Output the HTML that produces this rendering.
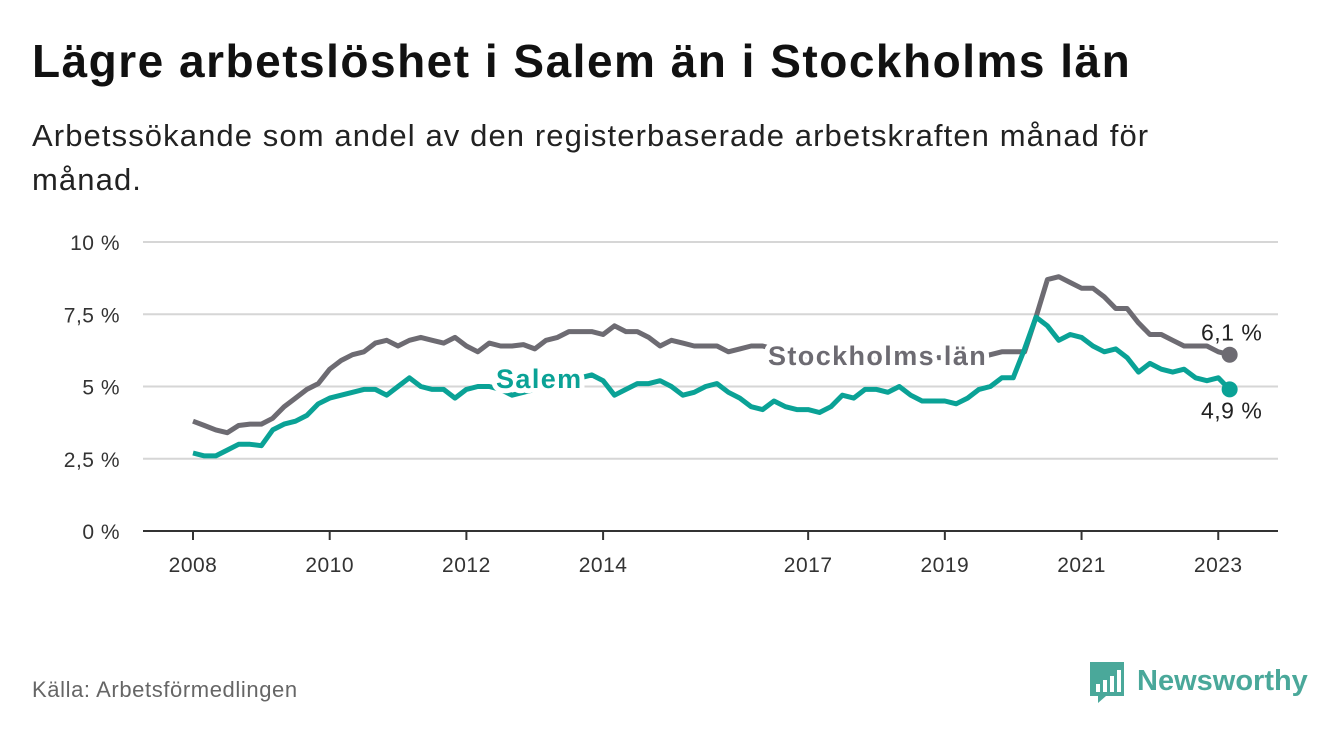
<!DOCTYPE html>
<html><head><meta charset="utf-8"><style>
body{margin:0;background:#fff;font-family:"Liberation Sans","DejaVu Sans",sans-serif;}
#wrap{position:relative;width:1340px;height:734px;overflow:hidden;}
h1{position:absolute;left:32px;top:34px;margin:0;font-size:46px;letter-spacing:1.5px;font-weight:bold;color:#111;white-space:nowrap;}
.sub{position:absolute;left:32px;top:114px;width:1260px;font-size:31px;letter-spacing:1.1px;line-height:44px;color:#222;white-space:nowrap;}
.src{position:absolute;left:32px;top:677px;font-size:22px;letter-spacing:0.6px;color:#666;}
svg{position:absolute;left:0;top:0;}
</style></head><body>
<div id="wrap">
<h1>Lägre arbetslöshet i Salem än i Stockholms län</h1>
<div class="sub">Arbetssökande som andel av den registerbaserade arbetskraften månad för<br>månad.</div>
<div class="src">Källa: Arbetsförmedlingen</div>
<svg id="chart" width="1340" height="734"></svg>
</div>
<script>
const yTicks=[0,2.5,5,7.5,10];
const yTickLabels=["0 %","2,5 %","5 %","7,5 %","10 %"];
const xTicks=[2008,2010,2012,2014,2017,2019,2021,2023];
const startYear=2008;
const stockholm=[3.8,3.65,3.5,3.4,3.65,3.7, 3.7,3.9,4.3,4.6,4.9,5.1, 5.6,5.9,6.1,6.2,6.5,6.6, 6.4,6.6,6.7,6.6,6.5,6.7, 6.4,6.2,6.5,6.4,6.4,6.45, 6.3,6.6,6.7,6.9,6.9,6.9, 6.8,7.1,6.9,6.9,6.7,6.4, 6.6,6.5,6.4,6.4,6.4,6.2, 6.3,6.4,6.4,6.3,6.3,6.1, 6.0,6.0,6.0,5.9,5.9,6.0, 6.0,6.0,6.0,6.0,6.0,6.0, 6.0,6.0,6.0,6.0,6.1,6.2, 6.2,6.2,7.4,8.7,8.8,8.6, 8.4,8.4,8.1,7.7,7.7,7.2, 6.8,6.8,6.6,6.4,6.4,6.4, 6.2,6.1];
const salem=[2.7,2.6,2.6,2.8,3.0,3.0, 2.95,3.5,3.7,3.8,4.0,4.4, 4.6,4.7,4.8,4.9,4.9,4.7, 5.0,5.3,5.0,4.9,4.9,4.6, 4.9,5.0,5.0,4.9,4.7,4.8, 4.9,5.0,5.1,5.2,5.3,5.4, 5.2,4.7,4.9,5.1,5.1,5.2, 5.0,4.7,4.8,5.0,5.1,4.8, 4.6,4.3,4.2,4.5,4.3,4.2, 4.2,4.1,4.3,4.7,4.6,4.9, 4.9,4.8,5.0,4.7,4.5,4.5, 4.5,4.4,4.6,4.9,5.0,5.3, 5.3,6.3,7.4,7.1,6.6,6.8, 6.7,6.4,6.2,6.3,6.0,5.5, 5.8,5.6,5.5,5.6,5.3,5.2, 5.3,4.9];
const stepsPerYear=6;
const NS="http://www.w3.org/2000/svg";
const svg=document.getElementById('chart');
const x=yr=>193+(yr-2008)*68.35;
const y=v=>531-v*28.9;
function mk(t,a,p){const e=document.createElementNS(NS,t);for(const k in a)e.setAttribute(k,a[k]);(p||svg).appendChild(e);return e;}
yTicks.forEach((v,i)=>{
  const g=mk('line',{x1:143,x2:1278,y1:y(v),y2:y(v),stroke:v===0?'#333':'#d6d6d6','stroke-width':2});
  
  
  const t=mk('text',{x:120,y:y(v)+8,'text-anchor':'end','font-size':21,'letter-spacing':0.5,fill:'#333'});
  t.textContent=yTickLabels[i];
  
  
});
xTicks.forEach(yr=>{
  const l=mk('line',{x1:x(yr),x2:x(yr),y1:531,y2:540,stroke:'#333','stroke-width':2});
  
  
  const t=mk('text',{x:x(yr),y:572,'text-anchor':'middle','font-size':21,'letter-spacing':0.5,fill:'#333'});
  t.textContent=yr;
  
  
});
function series(data,color,name){
  const pts=data.map((v,i)=>x(startYear+i/stepsPerYear).toFixed(1)+','+y(v).toFixed(1)).join(' ');
  const p=mk('polyline',{points:pts,fill:'none',stroke:color,'stroke-width':5,'stroke-linejoin':'round'});
  
  
  const n=data.length-1;
  const c=mk('circle',{cx:x(startYear+n/stepsPerYear),cy:y(data[n]),r:8,fill:color});
  
  
  return data[n];
}
const sEnd=series(stockholm,'#6d6b72','stockholm');
const saEnd=series(salem,'#0aa296','salem');
const lastX=x(startYear+(stockholm.length-1)/stepsPerYear);
function label(txt,xx,yy,col,anchor,bold,name){
  const t=mk('text',{x:xx,y:yy,'text-anchor':anchor,'font-size':bold?27:23,'letter-spacing':bold?1.4:0.5,'font-weight':bold?'bold':'normal',fill:col,stroke:'#fff','stroke-width':bold?10:6,'paint-order':'stroke','stroke-linejoin':'round'});
  t.textContent=txt;
  
  
}
label('Stockholms län',768,365,'#6d6b72','start',true,'stockholm-series-label');
label('Salem',496,388,'#0aa296','start',true,'salem-series-label');
label(sEnd.toFixed(1).replace('.',',')+' %',lastX+2,y(sEnd)-14,'#222','middle',false,'stockholm-end-value');
label(saEnd.toFixed(1).replace('.',',')+' %',lastX+2,y(saEnd)+29,'#222','middle',false,'salem-end-value');
const lg=mk('g',{});


mk('path',{d:'M1090 662 h34 v34 h-18 l-8 7 v-7 h-8 z',fill:'#4aa89a'},lg);
[[1096,684,4,8],[1103,680,4,12],[1110,676,4,16],[1117,670,4,22]].forEach(b=>mk('rect',{x:b[0],y:b[1],width:b[2],height:b[3],fill:'#fff'},lg));
const lt=mk('text',{x:1137,y:690,'font-size':29,'font-weight':'bold',fill:'#4aa89a'},lg);
lt.textContent='Newsworthy';
</script>
</body></html>
